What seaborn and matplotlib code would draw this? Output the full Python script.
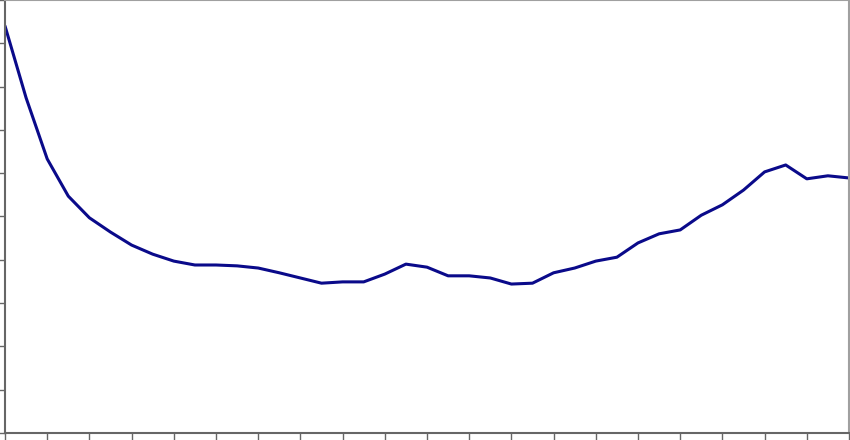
import numpy as np
import pandas as pd
import matplotlib
matplotlib.use("Agg")
import matplotlib.pyplot as plt
import seaborn as sns

# values (y axis 0..10, 41 points)
period = list(range(41))
values = [9.40, 7.74, 6.33, 5.47, 4.97, 4.64, 4.34, 4.13, 3.97, 3.88,
          3.88, 3.86, 3.81, 3.70, 3.58, 3.46, 3.49, 3.49, 3.67, 3.90,
          3.83, 3.63, 3.63, 3.58, 3.44, 3.46, 3.70, 3.81, 3.97, 4.06,
          4.39, 4.60, 4.69, 5.03, 5.27, 5.61, 6.03, 6.19, 5.87, 5.94,
          5.89]
x_ticks = list(range(0, 41, 2))
y_ticks = list(range(0, 11))

df = pd.DataFrame({"period": period, "value": values})

sns.set_style("white")
fig = plt.figure(figsize=(8.5, 4.4), dpi=100)
ax = fig.add_axes([5 / 850, 7 / 440, 844 / 850, 433 / 440])

sns.lineplot(data=df, x="period", y="value", color="#0a0a8a", linewidth=2.2, ax=ax)

ax.set_xlim(0, 40)
ax.set_ylim(0, 10)
ax.set_xticks(x_ticks)
ax.set_yticks(y_ticks)
ax.set_xticklabels([])
ax.set_yticklabels([])
ax.set_xlabel("")
ax.set_ylabel("")

ax.tick_params(axis="x", direction="out", length=5, width=1, color="#666666", bottom=True)
ax.tick_params(axis="y", direction="out", length=4, width=1, color="#666666", left=True)
for side in ["left", "bottom"]:
    ax.spines[side].set_color("#666666")
    ax.spines[side].set_linewidth(1.5)
for side in ["top", "right"]:
    ax.spines[side].set_color("#a0a0a0")
    ax.spines[side].set_linewidth(1.5)

fig.savefig("out.png", dpi=100)
